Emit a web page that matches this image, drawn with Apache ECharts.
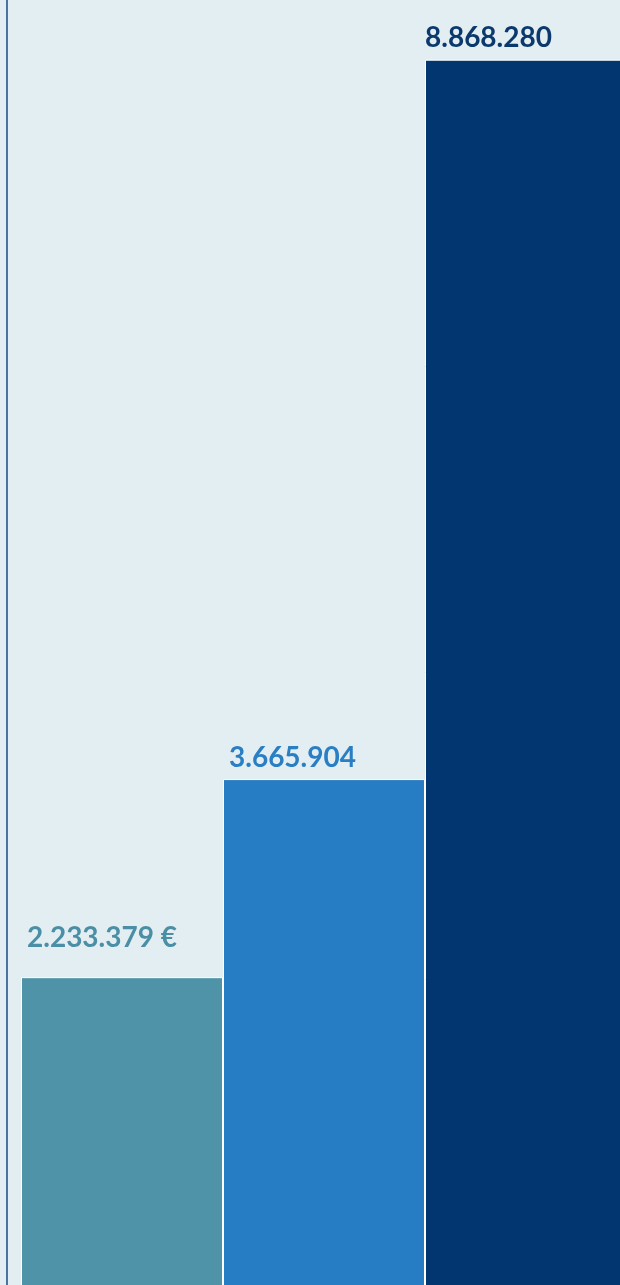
<!DOCTYPE html>
<html>
<head>
<meta charset="utf-8">
<script src="https://cdn.jsdelivr.net/npm/echarts@6/dist/echarts.min.js"></script>
<style>
  html, body { margin: 0; padding: 0; background: #e2eef1; overflow: hidden; }
  #chart { width: 627px; height: 1286px; }
</style>
</head>
<body>
<div id="chart"></div>
<script>
const categories = ['A', 'B', 'C'];
const values = [2233379, 3665904, 8868280];
const labelTexts = ['2.233.379 €', '3.665.904', '8.868.280'];
const barColors = ['#4f93a8', '#277dc3', '#023670'];
const labelColors = ['#4a8fa5', '#2a7ec4', '#0b396e'];
const labelPos = [[6, -25], [6, -7], [0, -8]];

const chart = echarts.init(document.getElementById('chart'));
chart.setOption({
  backgroundColor: '#e2eef1',
  animation: false,
  grid: { left: 21, right: 0, top: 0, bottom: 0 },
  xAxis: {
    type: 'category',
    data: categories,
    show: false
  },
  yAxis: {
    type: 'value',
    min: 0,
    max: 9300000,
    offset: 14,
    axisLine: { show: true, lineStyle: { color: '#4b73a0', width: 2 } },
    axisTick: { show: false },
    axisLabel: { show: false },
    splitLine: { show: false }
  },
  series: [{
    type: 'bar',
    barCategoryGap: '0%',
    data: values.map((v, i) => ({
      value: v,
      itemStyle: { color: barColors[i], borderColor: '#ffffff', borderWidth: 1 },
      label: {
        show: true,
        position: labelPos[i],
        align: 'left',
        verticalAlign: 'bottom',
        formatter: labelTexts[i],
        color: labelColors[i],
        fontFamily: 'Lato',
        fontWeight: 'bold',
        fontSize: 28,
        lineHeight: 28
      }
    }))
  }]
});
</script>
</body>
</html>
